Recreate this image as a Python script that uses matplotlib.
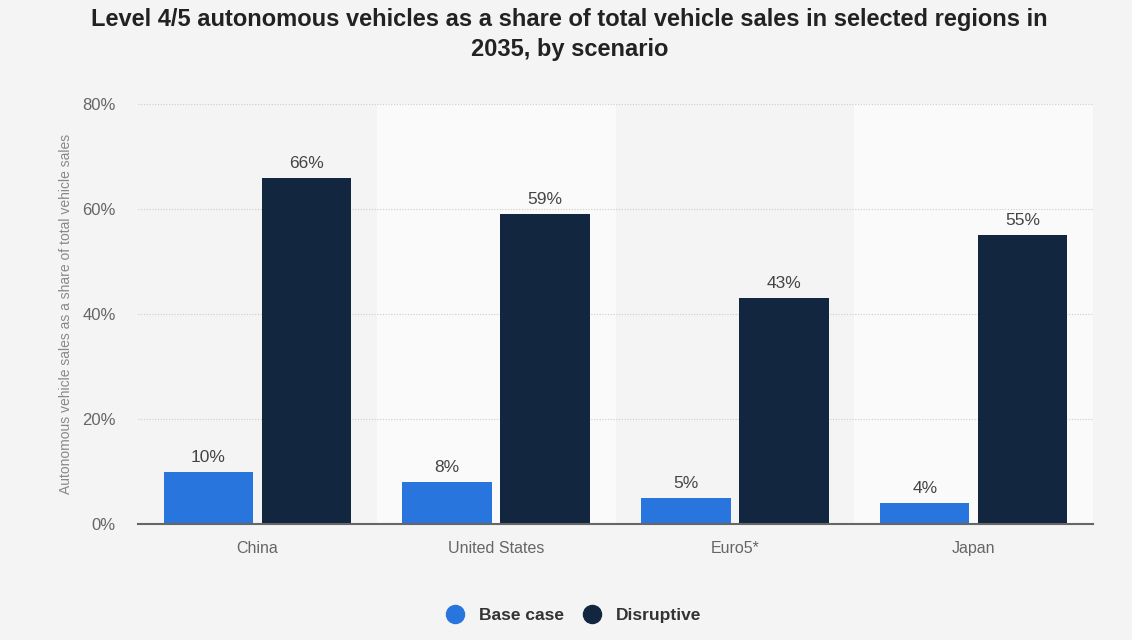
import matplotlib.pyplot as plt
import numpy as np

plt.rcParams['font.family'] = ['Liberation Sans', 'DejaVu Sans']

regions = ['China', 'United States', 'Euro5*', 'Japan']
base_case = [10, 8, 5, 4]
disruptive = [66, 59, 43, 55]
y_ticks = [0, 20, 40, 60, 80]

c_base = '#2775dd'
c_disr = '#12263f'
bg = '#f4f4f4'

fig = plt.figure(figsize=(11.32, 6.4), dpi=100, facecolor=bg)
ax = fig.add_axes([0.1219, 0.18125, 0.8437, 0.65625])
ax.set_facecolor(bg)

x = np.arange(len(regions))
w = 0.375
off = 0.205

# alternating column shading
for i in x:
    if i % 2 == 1:
        ax.axvspan(i - 0.5, i + 0.5, color='#fafafa', zorder=0, lw=0)

b1 = ax.bar(x - off, base_case, w, color=c_base, zorder=3)
b2 = ax.bar(x + off, disruptive, w, color=c_disr, zorder=3)

for bars, vals in ((b1, base_case), (b2, disruptive)):
    for r, v in zip(bars, vals):
        ax.annotate(f'{v}%', (r.get_x() + r.get_width() / 2, v),
                    xytext=(0, 5), textcoords='offset points',
                    ha='center', va='bottom', fontsize=12.5, color='#444444')

ax.set_xlim(-0.5, 3.5)
ax.set_ylim(0, 80)
ax.set_yticks(y_ticks)
ax.set_yticklabels([f'{t}%' for t in y_ticks])
ax.set_xticks(x)
ax.set_xticklabels(regions)
ax.tick_params(axis='both', length=0, labelsize=12, labelcolor='#666666')
ax.tick_params(axis='y', pad=16)
ax.tick_params(axis='x', labelsize=11.5, pad=12)

ax.grid(axis='y', color='#cccccc', linestyle=(0, (1, 1.5)), lw=0.8, zorder=1)
for s in ('top', 'right', 'left'):
    ax.spines[s].set_visible(False)
ax.spines['bottom'].set_color('#666666')
ax.spines['bottom'].set_linewidth(1.5)
ax.spines['bottom'].set_zorder(4)

ax.set_ylabel('Autonomous vehicle sales as a share of total vehicle sales',
              fontsize=10, color='#888888', labelpad=7)

fig.text(0.503, 0.988,
         'Level 4/5 autonomous vehicles as a share of total vehicle sales in selected regions in\n2035, by scenario',
         ha='center', va='top', fontsize=17, fontweight='bold', color='#222222',
         linespacing=1.42)

h1 = plt.Line2D([], [], marker='o', ls='', markersize=13, color=c_base)
h2 = plt.Line2D([], [], marker='o', ls='', markersize=13, color=c_disr)
fig.legend([h1, h2], ['Base case', 'Disruptive'], loc='center',
           bbox_to_anchor=(0.503, 0.038), ncol=2, frameon=False,
           prop={'size': 12.5, 'weight': 'bold'}, labelcolor='#333333',
           handletextpad=0.4, columnspacing=0.6)

fig.savefig('out.png', dpi=100, facecolor=bg)
